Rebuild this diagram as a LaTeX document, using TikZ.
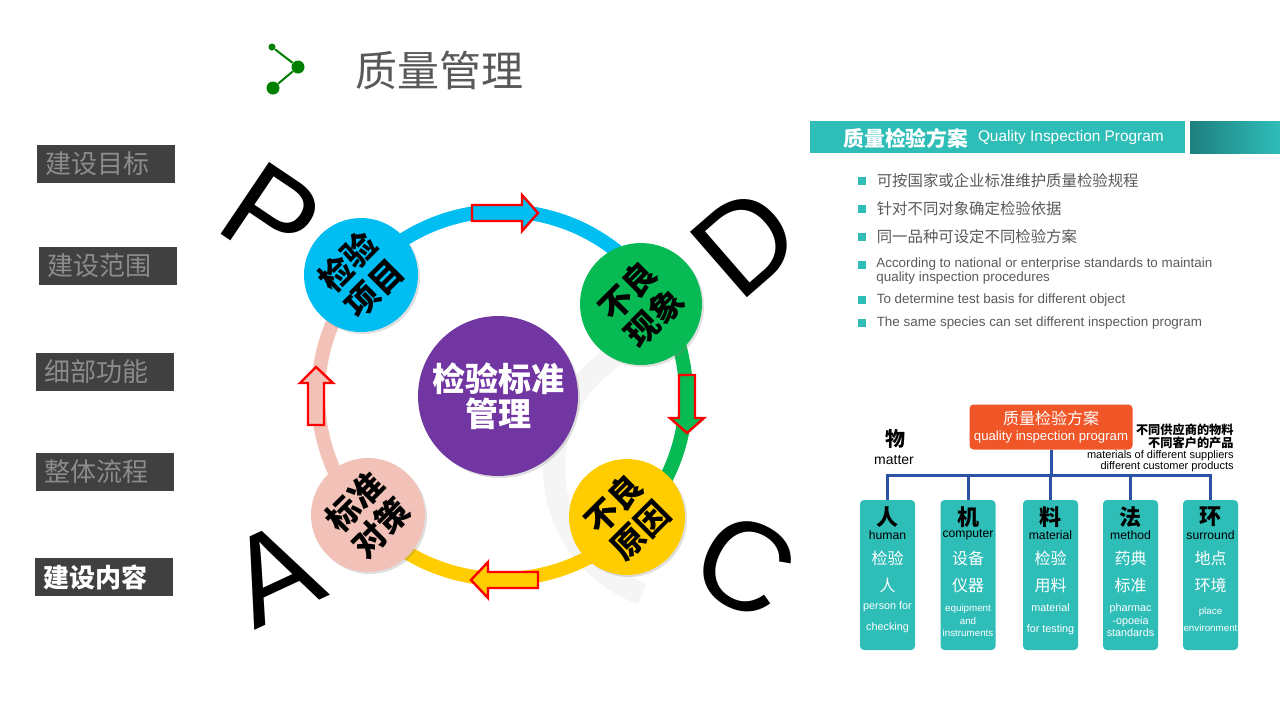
\documentclass[tikz,border=0pt]{standalone}
\usepackage{fontspec}
\setmainfont{Liberation Sans}
\newfontfamily\cjk{Noto Sans CJK SC}
\usetikzlibrary{positioning}
\usetikzlibrary{shadows}
\definecolor{menudark}{RGB}{64,64,64}
\definecolor{menugray}{RGB}{140,140,140}
\definecolor{titlegray}{RGB}{89,89,89}
\definecolor{icongreen}{RGB}{0,128,0}
\definecolor{stageblue}{RGB}{0,189,242}
\definecolor{stagegreen}{RGB}{8,186,84}
\definecolor{stageyellow}{RGB}{255,204,0}
\definecolor{stagepink}{RGB}{242,194,184}
\definecolor{stagepurple}{RGB}{114,54,162}
\definecolor{arrred}{RGB}{255,0,0}
\definecolor{qteal}{RGB}{47,189,184}
\definecolor{qtealdark}{RGB}{30,128,128}
\definecolor{qorange}{RGB}{240,86,40}
\definecolor{orgblue}{RGB}{44,82,166}
\definecolor{textgray}{RGB}{90,90,90}

\tikzset{
  menubox/.style={anchor=west, fill=menudark, text=menugray, font=\cjk\fontsize{13}{15}\selectfont,
    minimum height=18.5pt, text width=61pt, inner xsep=4pt, align=left},
  stage/.style={circle, inner sep=0pt, minimum size=57pt, align=center, rotate=45,
    font=\cjk\bfseries\fontsize{16.5}{18.5}\selectfont,
    drop shadow={opacity=0.25, shadow xshift=1pt, shadow yshift=-1pt}},
  band/.style={line width=7pt},
  blockarrow/.style={draw=arrred, line width=1.2pt},
  pdca/.style={inner sep=0pt, font=\fontsize{63}{63}\selectfont},
  bulletsq/.style={fill=qteal, minimum size=4pt, inner sep=0pt},
  bulletcn/.style={anchor=west, inner sep=0pt, text=textgray, font=\cjk\fontsize{7.7}{9}\selectfont},
  bulleten/.style={anchor=west, inner sep=0pt, text=textgray, align=left, font=\fontsize{6.7}{6.2}\selectfont},
  orgline/.style={draw=orgblue, line width=1.5pt},
  tealcol/.style={fill=qteal, rounded corners=2pt, minimum width=27.5pt, minimum height=75pt},
  colhead/.style={inner sep=0pt, font=\cjk\bfseries\fontsize{11}{12}\selectfont},
  colen/.style={inner sep=0pt, font=\fontsize{6.1}{7}\selectfont},
  colcn/.style={inner sep=0pt, text=white, font=\cjk\fontsize{8}{9}\selectfont},
  colsmall/.style={inner sep=0pt, text=white, align=center, font=\fontsize{5.4}{6.2}\selectfont},
}

\begin{document}
\begin{tikzpicture}[x=0.5pt,y=-0.5pt]
    \useasboundingbox[fill=white] (0,0) rectangle (1280,720);

    % page title with the little green icon
    \node[circle, fill=icongreen, minimum size=3.5pt, inner sep=0pt] (dtop) at (272,47) {};
    \node[circle, fill=icongreen, minimum size=6.5pt, inner sep=0pt] (dmid) at (298,67) {};
    \node[circle, fill=icongreen, minimum size=6.5pt, inner sep=0pt] (dbot) at (273,88) {};
    \draw[icongreen, line width=1pt] (dtop) -- (dmid) -- (dbot);
    \node[anchor=west, inner sep=0pt, text=titlegray, font=\cjk\fontsize{21}{24}\selectfont] (title) at (355,70) {质量管理};

    % left menu
    \node[menubox] (goal) at (37,164) {建设目标};
    \node[menubox] (range) at (39,266) {建设范围};
    \node[menubox] (func) at (36,372) {细部功能};
    \node[menubox] (flow) at (36,472) {整体流程};
    \node[menubox, text=white, font=\cjk\bfseries\fontsize{13}{15}\selectfont] (content) at (35,577) {建设内容};

    % faint watermark behind the cycle
    \coordinate (wmark) at (688,468);
    \draw[line width=11pt, draw=black!4] ([shift={(110:134)}]wmark) arc[start angle=110, end angle=250, radius=134];

    % the PDCA ring, one colour per quarter
    \coordinate (ring) at (502,395);
    \draw[band, draw=stageblue] ([shift={(-140:184)}]ring) arc[start angle=-140, end angle=-33, radius=184];
    \draw[band, draw=stagegreen] ([shift={(-33:184)}]ring) arc[start angle=-33, end angle=44, radius=184];
    \draw[band, draw=stageyellow] ([shift={(44:184)}]ring) arc[start angle=44, end angle=138, radius=184];
    \draw[band, draw=stagepink] ([shift={(138:184)}]ring) arc[start angle=138, end angle=220, radius=184];

    % block arrows sitting on the ring
    \draw[blockarrow, fill=stageblue] (472,205) -- (522,205) -- (522,195) -- (538,213) -- (522,231) -- (522,221) -- (472,221) -- cycle;
    \draw[blockarrow, fill=stagegreen] (679,375) -- (695,375) -- (695,418) -- (704,418) -- (687,433) -- (670,418) -- (679,418) -- cycle;
    \draw[blockarrow, fill=stageyellow] (538,572) -- (488,572) -- (488,562) -- (471,580) -- (488,598) -- (488,588) -- (538,588) -- cycle;
    \draw[blockarrow, fill=stagepink] (308,425) -- (308,383) -- (300,383) -- (316,367) -- (333,383) -- (324,383) -- (324,425) -- cycle;

    % the four stages and the centre
    \node[stage, fill=stageblue] (item) at (361,275) {检验\\项目};
    \node[stage, fill=stagegreen, minimum size=61pt] (defect) at (641,304) {不良\\现象};
    \node[stage, fill=stageyellow, minimum size=58pt] (cause) at (627,517) {不良\\原因};
    \node[stage, fill=stagepink] (measure) at (368,515) {标准\\对策};
    \node[stage, rotate=-45, fill=stagepurple, text=white, minimum size=80pt,
          font=\cjk\bfseries\fontsize{16.5}{17.5}\selectfont] (core) at (498,396) {检验标准\\管理};

    % big letters
    \node[pdca, rotate=-34] (plan) at (272,216) {P};
    \node[pdca, rotate=41] (do) at (745,242) {D};
    \node[pdca, rotate=-28] (check) at (745,566) {C};
    \node[pdca, rotate=25] (act) at (274,573) {A};

    % right panel: header bar
    \fill[qteal] (810,121) rectangle (1185,153);
    \shade[left color=qtealdark, right color=qteal] (1190,121) rectangle (1280,153);
    \node[anchor=west, inner sep=0pt, text=white, font=\cjk\bfseries\fontsize{10.4}{12}\selectfont] (qiphead) at (843,138) {质量检验方案};
    \node[right=4.5pt of qiphead, inner sep=0pt, text=white, font=\fontsize{7.7}{8}\selectfont] (qipsub) {Quality Inspection Program};

    % right panel: bullet list
    \node[bulletsq] (sq1) at (862,181) {};
    \node[bulletcn, right=5pt of sq1] (line1) {可按国家或企业标准维护质量检验规程};
    \node[bulletsq] (sq2) at (862,209) {};
    \node[bulletcn, right=5pt of sq2] (line2) {针对不同对象确定检验依据};
    \node[bulletsq] (sq3) at (862,237) {};
    \node[bulletcn, right=5pt of sq3] (line3) {同一品种可设定不同检验方案};
    \node[bulletsq] (sq4) at (862,265) {};
    \node[bulleten] (line4) at (876,271) {According to national or enterprise standards to maintain\\quality inspection procedures};
    \node[bulletsq] (sq5) at (862,300) {};
    \node[bulleten, right=5pt of sq5] (line5) {To determine test basis for different object};
    \node[bulletsq] (sq6) at (862,323) {};
    \node[bulleten, right=5pt of sq6] (line6) {The same species can set different inspection program};

    % right panel: org chart
    \node[fill=qorange, rounded corners=2pt, minimum width=81.5pt, minimum height=22.5pt, inner sep=0pt,
          text=white, align=center, font=\fontsize{8}{8}\selectfont] (qprog) at (1051,427)
          {{\cjk 质量检验方案}\\{\fontsize{6.6}{8}\selectfont quality inspection program}};
    \node[anchor=north east, inner sep=0pt, align=right, font=\cjk\bfseries\fontsize{6.1}{6.6}\selectfont] (cnnote) at (1234,423)
          {不同供应商的物料\\不同客户的产品};
    \node[below=0.5pt of cnnote.south east, anchor=north east, inner sep=0pt, align=right,
          font=\fontsize{5.5}{5.6}\selectfont] (ennote) {materials of different suppliers\\different customer products};
    \node[inner sep=0pt, font=\cjk\bfseries\fontsize{10}{11}\selectfont] (wu) at (895,439) {物};
    \node[inner sep=0pt, font=\fontsize{7}{8}\selectfont] (matter) at (894,460) {matter};

    \node[tealcol] (ren) at (887.5,575) {};
    \node[tealcol] (ji) at (968,575) {};
    \node[tealcol] (liao) at (1050.5,575) {};
    \node[tealcol] (fa) at (1130.5,575) {};
    \node[tealcol] (huan) at (1210.5,575) {};

    \coordinate (bus) at (1051,475);
    \draw[orgline] (qprog) -- (bus) -| (ren);
    \draw[orgline] (qprog) -- (bus) -| (ji);
    \draw[orgline] (qprog) -- (bus) -| (liao);
    \draw[orgline] (qprog) -- (bus) -| (fa);
    \draw[orgline] (qprog) -- (bus) -| (huan);

    % column texts
    \node[colhead] at (887.5,517) {人};
    \node[colen] at (887.5,535) {human};
    \node[colcn] at (887.5,558) {检验};
    \node[colcn] at (887.5,585) {人};
    \node[colsmall] at (887.5,617.5) {person for\\[4.3pt]checking};

    \node[colhead] at (968,517) {机};
    \node[colen] at (968,535) {computer};
    \node[colcn] at (968,558) {设备};
    \node[colcn] at (968,585) {仪器};
    \node[colsmall, font=\fontsize{4.9}{6.2}\selectfont] at (968,620.5) {equipment\\and\\instruments};

    \node[colhead] at (1050.5,517) {料};
    \node[colen] at (1050.5,535) {material};
    \node[colcn] at (1050.5,558) {检验};
    \node[colcn] at (1050.5,585) {用料};
    \node[colsmall] at (1050.5,619.5) {material\\[4.3pt]for testing};

    \node[colhead] at (1130.5,517) {法};
    \node[colen] at (1130.5,535) {method};
    \node[colcn] at (1130.5,558) {药典};
    \node[colcn] at (1130.5,585) {标准};
    \node[colsmall] at (1130.5,620.5) {pharmac\\-opoeia\\standards};

    \node[colhead] at (1210.5,517) {环};
    \node[colen] at (1210.5,535) {surround};
    \node[colcn] at (1210.5,558) {地点};
    \node[colcn] at (1210.5,585) {环境};
    \node[colsmall, font=\fontsize{4.9}{6.2}\selectfont] at (1210.5,619.5) {place\\[2.3pt]environment};
\end{tikzpicture}
\end{document}
